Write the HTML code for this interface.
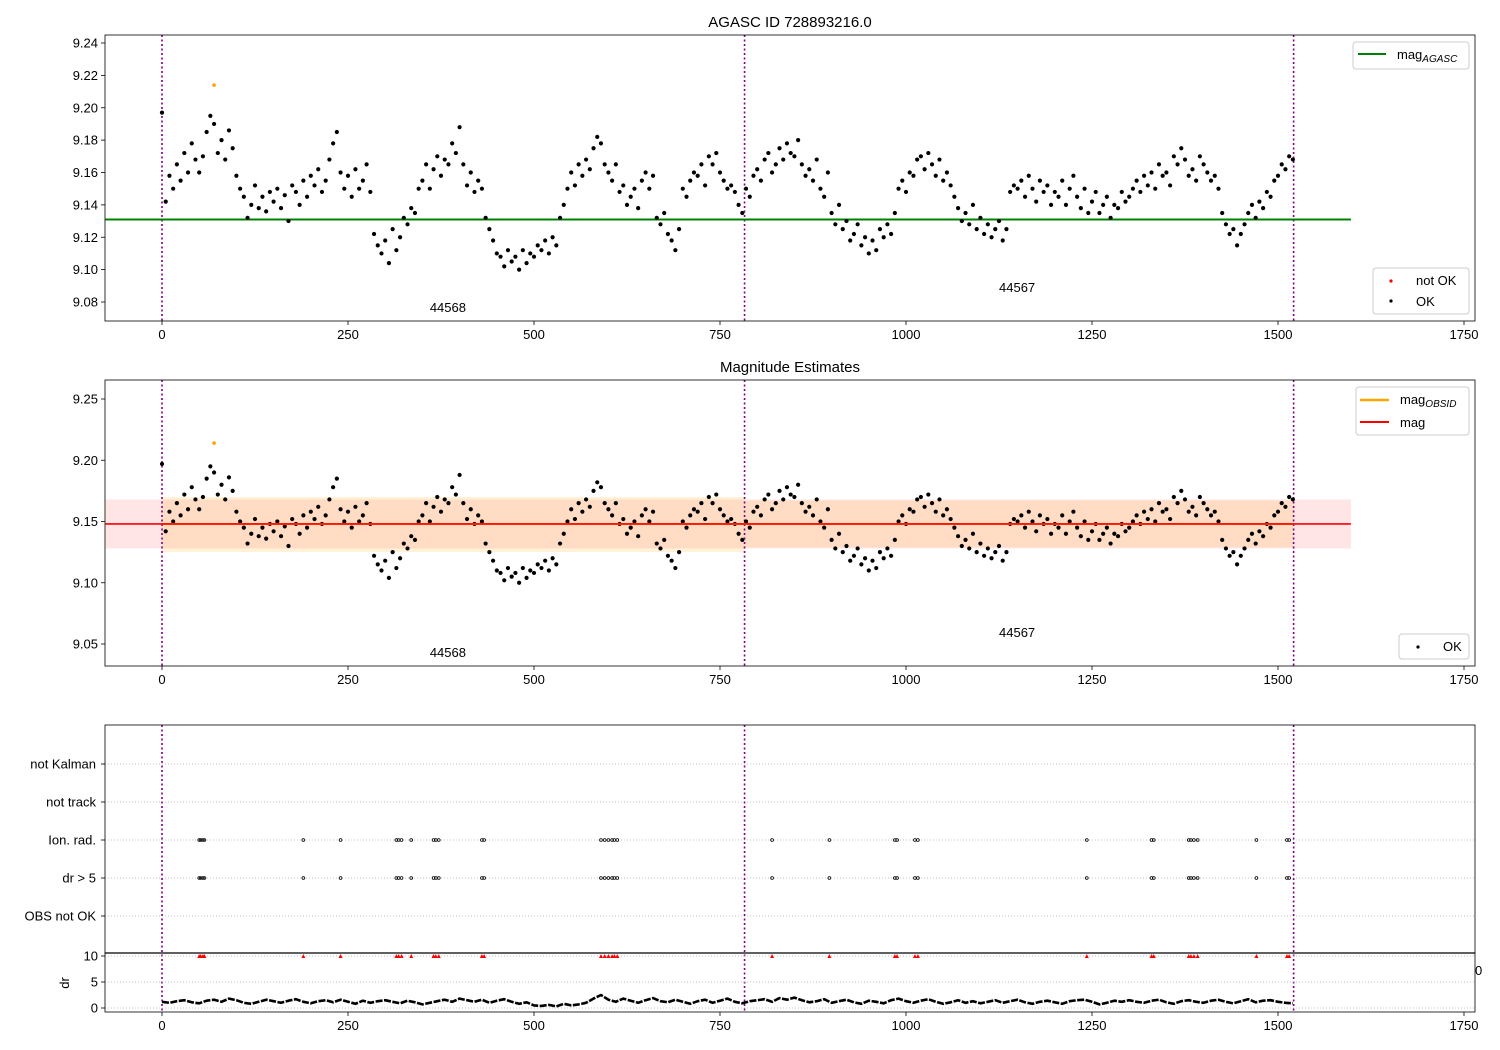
<!DOCTYPE html>
<html><head><meta charset="utf-8"><style>
body{margin:0;background:#fff}
svg{display:block;font-family:"Liberation Sans","DejaVu Sans",sans-serif}
</style></head><body>
<svg id="chart" width="1500" height="1050" xmlns="http://www.w3.org/2000/svg"></svg>
<script>
const magStep = 5;
const magValues = [
9.197,9.142,9.158,9.150,9.165,9.155,9.172,9.160,9.178,9.168,
9.160,9.170,9.185,9.195,9.190,9.172,9.180,9.168,9.186,9.175,
9.158,9.150,9.145,9.132,9.140,9.152,9.138,9.145,9.136,9.148,
9.142,9.150,9.138,9.146,9.130,9.152,9.148,9.140,9.155,9.145,
9.158,9.152,9.162,9.148,9.155,9.168,9.178,9.185,9.160,9.150,
9.158,9.145,9.162,9.150,9.155,9.165,9.148,9.122,9.115,9.110,
9.118,9.104,9.125,9.112,9.120,9.132,9.128,9.138,9.135,9.150,
9.155,9.165,9.150,9.162,9.170,9.158,9.168,9.165,9.178,9.172,
9.188,9.165,9.152,9.160,9.148,9.155,9.150,9.132,9.125,9.118,
9.110,9.108,9.102,9.112,9.105,9.108,9.100,9.112,9.104,9.110,
9.108,9.115,9.112,9.118,9.110,9.120,9.115,9.132,9.140,9.150,
9.160,9.152,9.165,9.158,9.168,9.162,9.175,9.182,9.178,9.165,
9.160,9.155,9.165,9.148,9.152,9.140,9.145,9.150,9.138,9.155,
9.160,9.150,9.158,9.132,9.128,9.135,9.122,9.118,9.112,9.125,
9.150,9.145,9.155,9.160,9.158,9.165,9.152,9.170,9.165,9.172,
9.160,9.155,9.150,9.152,9.148,9.140,9.135,9.150,9.145,9.158,
9.162,9.155,9.168,9.172,9.160,9.165,9.175,9.168,9.178,9.172,
9.170,9.180,9.165,9.158,9.162,9.155,9.168,9.150,9.145,9.160,
9.135,9.128,9.140,9.125,9.130,9.118,9.122,9.128,9.115,9.120,
9.110,9.118,9.112,9.125,9.120,9.128,9.122,9.135,9.150,9.155,
9.148,9.160,9.158,9.168,9.170,9.162,9.172,9.165,9.158,9.168,
9.155,9.160,9.152,9.145,9.138,9.130,9.135,9.128,9.140,9.125,
9.132,9.122,9.128,9.120,9.125,9.130,9.118,9.125,9.148,9.152,
9.150,9.155,9.145,9.158,9.150,9.142,9.155,9.148,9.152,9.140,
9.148,9.145,9.155,9.140,9.150,9.158,9.145,9.138,9.150,9.135,
9.142,9.148,9.135,9.140,9.145,9.132,9.140,9.138,9.148,9.142,
9.145,9.150,9.155,9.148,9.158,9.152,9.160,9.150,9.165,9.158,
9.160,9.152,9.170,9.165,9.175,9.168,9.158,9.162,9.155,9.170,
9.165,9.160,9.155,9.158,9.150,9.135,9.128,9.122,9.125,9.115,
9.122,9.128,9.135,9.140,9.132,9.142,9.138,9.148,9.145,9.155,
9.158,9.165,9.162,9.170,9.168];
const outlierX = [70];
const outlierMag = [9.214];
const magAgasc = 9.131;
const magMean = 9.148;
const magBand = [9.128, 9.168];
const obsNames = ["44568","44567"];
const obsStart = [0, 783];
const obsEnd = [783, 1521];
const obsBandLo = [9.125, 9.129];
const obsBandHi = [9.170, 9.167];
const flagX = [50,52,55,57,190,240,315,318,322,335,365,368,372,430,433,590,595,600,605,608,612,820,897,985,988,1012,1016,1243,1330,1333,1380,1383,1387,1392,1471,1512,1515];
const flagCats = ["OBS not OK","dr > 5","Ion. rad.","not track","not Kalman"];
const drStep = 10;
const drValues = [
1.2,1.0,1.3,1.5,1.1,0.9,1.4,1.6,1.2,1.8,
1.5,1.0,0.8,1.2,1.6,1.3,1.0,1.4,1.7,1.2,
0.9,1.3,1.5,1.1,1.6,1.2,0.8,1.4,1.0,1.3,
1.5,1.2,0.9,1.4,1.1,0.7,1.0,1.3,1.6,1.2,
1.8,1.5,1.2,1.6,1.0,1.4,1.7,1.2,0.8,1.1,
0.5,0.4,0.6,0.3,0.8,0.5,0.7,1.0,1.8,2.5,
1.6,1.2,1.8,1.4,1.0,1.5,1.9,1.3,1.1,1.6,
1.2,0.8,1.3,1.6,1.0,1.4,1.8,1.2,0.9,1.3,
1.5,1.7,1.2,1.9,1.6,2.0,1.5,1.1,1.3,1.7,
1.0,1.3,1.6,1.1,0.8,1.4,1.2,0.9,1.5,1.8,
1.3,1.0,1.4,1.7,1.2,0.8,1.1,1.5,1.0,1.3,
0.9,1.2,1.5,1.0,1.3,1.6,1.1,0.8,1.2,1.4,
1.1,0.8,1.3,1.5,1.6,1.2,0.7,1.0,1.4,1.2,
1.5,1.2,1.0,1.4,1.6,1.1,0.8,1.3,1.5,1.2,
1.0,1.4,1.6,1.2,0.9,1.3,1.7,1.1,1.4,1.5,
1.2,1.0,0.9];
const xTicks = [0,250,500,750,1000,1250,1500,1750];
const yTicksTop = [9.08,9.10,9.12,9.14,9.16,9.18,9.20,9.22,9.24];
const yTicksMid = [9.05,9.10,9.15,9.20,9.25];
const drTicks = [0,5,10];

const NS="http://www.w3.org/2000/svg";
const svg=document.getElementById('chart');
function el(tag,attrs,parent,text){const e=document.createElementNS(NS,tag);for(const k in attrs)e.setAttribute(k,attrs[k]);if(text!==undefined)e.textContent=text;(parent||svg).appendChild(e);return e;}
const L=105,R=1475;
const xs=v=>162+v*0.744;
const yTop=v=>302-(v-9.08)*1618.75;
const yMid=v=>644-(v-9.05)*1225;
const catY=i=>916-i*38;
const yDr=v=>1008-v*5.2;
const XMAX=1598, XMIN=-76;
const DOT=2.1;

function frame(t,b,name){
  const g=el('g',{});
  return g;
}
function axisX(g,b,labels){
  xTicks.forEach(t=>{const x=xs(t);el('line',{x1:x,x2:x,y1:b,y2:b+4,stroke:'#000','stroke-width':0.8},g);
    if(labels){const tx=el('text',{x:x,y:b+18,'text-anchor':'middle','font-size':13},g,String(t));}});
}
function vlines(g,t,b){[0,783,1521].forEach(v=>{const l=el('line',{x1:xs(v),x2:xs(v),y1:t,y2:b,stroke:'purple','stroke-width':1.6,'stroke-dasharray':'2,2.5'},g);});}
function border(g,t,b){el('rect',{x:L,y:t,width:R-L,height:b-t,fill:'none',stroke:'#000','stroke-width':0.8},g);}

// ---------- Top panel ----------
{
const g=frame(35,321,'agasc-panel');
el('text',{x:790,y:27,'text-anchor':'middle','font-size':15},g,'AGASC ID 728893216.0');
yTicksTop.forEach(t=>{const y=yTop(t);el('line',{x1:L-4,x2:L,y1:y,y2:y,stroke:'#000','stroke-width':0.8},g);const tx=el('text',{x:L-7,y:y+4.5,'text-anchor':'end','font-size':13},g,t.toFixed(2));});
vlines(g,35,321);
const gl=el('line',{x1:xs(XMIN),x2:xs(XMAX),y1:yTop(magAgasc),y2:yTop(magAgasc),stroke:'green','stroke-width':2},g);

magValues.forEach((v,i)=>{const c=el('circle',{cx:xs(i*magStep),cy:yTop(v),r:DOT,fill:'#000'},g);});
outlierX.forEach((x,i)=>{const c=el('circle',{cx:xs(x),cy:yTop(outlierMag[i]),r:1.8,fill:'orange'},g);});
el('text',{x:xs(360),y:312,'font-size':13},g,obsNames[0]);
el('text',{x:xs(1125),y:292,'font-size':13},g,obsNames[1]);
border(g,35,321);axisX(g,321,true);
const lg=el('g',{},g);
el('rect',{x:1353,y:42,width:116,height:27,rx:3,fill:'#fff',stroke:'#ccc'},lg);
el('line',{x1:1358,x2:1386,y1:54,y2:54,stroke:'green','stroke-width':2},lg);
const t1=el('text',{x:1397,y:59,'font-size':13},lg,'mag');el('tspan',{'font-size':10,'font-style':'italic',dy:3},t1,'AGASC');
const lg2=el('g',{},g);
el('rect',{x:1373,y:268,width:96,height:46,rx:3,fill:'#fff',stroke:'#ccc'},lg2);
el('circle',{cx:1391,cy:281,r:1.6,fill:'red'},lg2);el('text',{x:1416,y:285,'font-size':13},lg2,'not OK');
el('circle',{cx:1391,cy:301,r:1.6,fill:'#000'},lg2);el('text',{x:1416,y:306,'font-size':13},lg2,'OK');
}
// ---------- Middle panel ----------
{
const g=frame(380,666,'magnitude-panel');
el('text',{x:790,y:372,'text-anchor':'middle','font-size':15},g,'Magnitude Estimates');
yTicksMid.forEach(t=>{const y=yMid(t);el('line',{x1:L-4,x2:L,y1:y,y2:y,stroke:'#000','stroke-width':0.8},g);const tx=el('text',{x:L-7,y:y+4.5,'text-anchor':'end','font-size':13},g,t.toFixed(2));});
const pb=el('rect',{x:xs(XMIN),y:yMid(magBand[1]),width:xs(XMAX)-xs(XMIN),height:yMid(magBand[0])-yMid(magBand[1]),fill:'rgba(255,0,0,0.1)'},g);

obsStart.forEach((s,i)=>{const r=el('rect',{x:xs(s),y:yMid(obsBandHi[i]),width:xs(obsEnd[i])-xs(s),height:yMid(obsBandLo[i])-yMid(obsBandHi[i]),fill:'rgba(255,165,0,0.15)'},g);});
vlines(g,380,666);
magValues.forEach((v,i)=>{const c=el('circle',{cx:xs(i*magStep),cy:yMid(v),r:DOT,fill:'#000'},g);});
outlierX.forEach((x,i)=>{const c=el('circle',{cx:xs(x),cy:yMid(outlierMag[i]),r:1.8,fill:'orange'},g);});
obsStart.forEach((s,i)=>{const l=el('line',{x1:xs(s),x2:xs(obsEnd[i]),y1:yMid(magMean),y2:yMid(magMean),stroke:'orange','stroke-width':2},g);});
const ml=el('line',{x1:xs(XMIN),x2:xs(XMAX),y1:yMid(magMean),y2:yMid(magMean),stroke:'red','stroke-width':1.6},g);

el('text',{x:xs(360),y:657,'font-size':13},g,obsNames[0]);
el('text',{x:xs(1125),y:637,'font-size':13},g,obsNames[1]);
border(g,380,666);axisX(g,666,true);
const lg=el('g',{},g);
el('rect',{x:1356,y:387,width:113,height:48,rx:3,fill:'#fff',stroke:'#ccc'},lg);
el('line',{x1:1360,x2:1389,y1:400,y2:400,stroke:'orange','stroke-width':2.5},lg);
const t1=el('text',{x:1400,y:404,'font-size':13},lg,'mag');el('tspan',{'font-size':10,'font-style':'italic',dy:3},t1,'OBSID');
el('line',{x1:1360,x2:1389,y1:422,y2:422,stroke:'red','stroke-width':2},lg);
el('text',{x:1400,y:427,'font-size':13},lg,'mag');
const lg2=el('g',{},g);
el('rect',{x:1399,y:634,width:70,height:25,rx:3,fill:'#fff',stroke:'#ccc'},lg2);
el('circle',{cx:1418,cy:647,r:1.6,fill:'#000'},lg2);el('text',{x:1443,y:651,'font-size':13},lg2,'OK');
}
// ---------- Flags panel ----------
{
const g=frame(725,953,'flags-panel');
flagCats.forEach((c,i)=>{const y=catY(i);el('line',{x1:L,x2:R,y1:y,y2:y,stroke:'#b0b0b0','stroke-width':0.8,'stroke-dasharray':'1,2'},g);el('line',{x1:L-4,x2:L,y1:y,y2:y,stroke:'#000','stroke-width':0.8},g);const t=el('text',{x:L-9,y:y+4.5,'text-anchor':'end','font-size':13},g,c);});
vlines(g,725,1012);
[1,2].forEach(ci=>flagX.forEach(x=>{const c=el('circle',{cx:xs(x),cy:catY(ci),r:1.4,fill:'none',stroke:'#000','stroke-width':0.8},g);}));
el('rect',{x:L,y:725,width:R-L,height:228,fill:'none',stroke:'#000','stroke-width':0.8},g);
}
// ---------- dr panel ----------
{
const g=frame(953,1012,'dr-panel');
drTicks.forEach(t=>{const y=yDr(t);el('line',{x1:L,x2:R,y1:y,y2:y,stroke:'#b0b0b0','stroke-width':0.8,'stroke-dasharray':'1,2'},g);el('line',{x1:L-4,x2:L,y1:y,y2:y,stroke:'#000','stroke-width':0.8},g);const tx=el('text',{x:L-7,y:y+4.5,'text-anchor':'end','font-size':13},g,String(t));});
const yl=el('text',{x:0,y:0,'font-size':13,'text-anchor':'middle',transform:'translate(69,983) rotate(-90)'},g,'dr');

const pts=drValues.map((v,i)=>xs(i*drStep).toFixed(1)+','+yDr(v).toFixed(1)).join(' ');
const pl=el('polyline',{points:pts,fill:'none',stroke:'#000','stroke-width':2.6,'stroke-linejoin':'round','stroke-dasharray':'7,1.5'},g);

flagX.forEach(x=>{const m=el('path',{d:`M${xs(x)-2},${yDr(10)+2} L${xs(x)+2},${yDr(10)+2} L${xs(x)},${yDr(10)-2} Z`,fill:'red'},g);});
el('rect',{x:L,y:953,width:R-L,height:59,fill:'none',stroke:'#000','stroke-width':0.8},g);
el('line',{x1:L,x2:R,y1:953,y2:953,stroke:'#000','stroke-width':1.2},g);
el('text',{x:1475,y:975,'font-size':13},g,'0');
axisX(g,1012,true);
}
</script>
</body></html>
